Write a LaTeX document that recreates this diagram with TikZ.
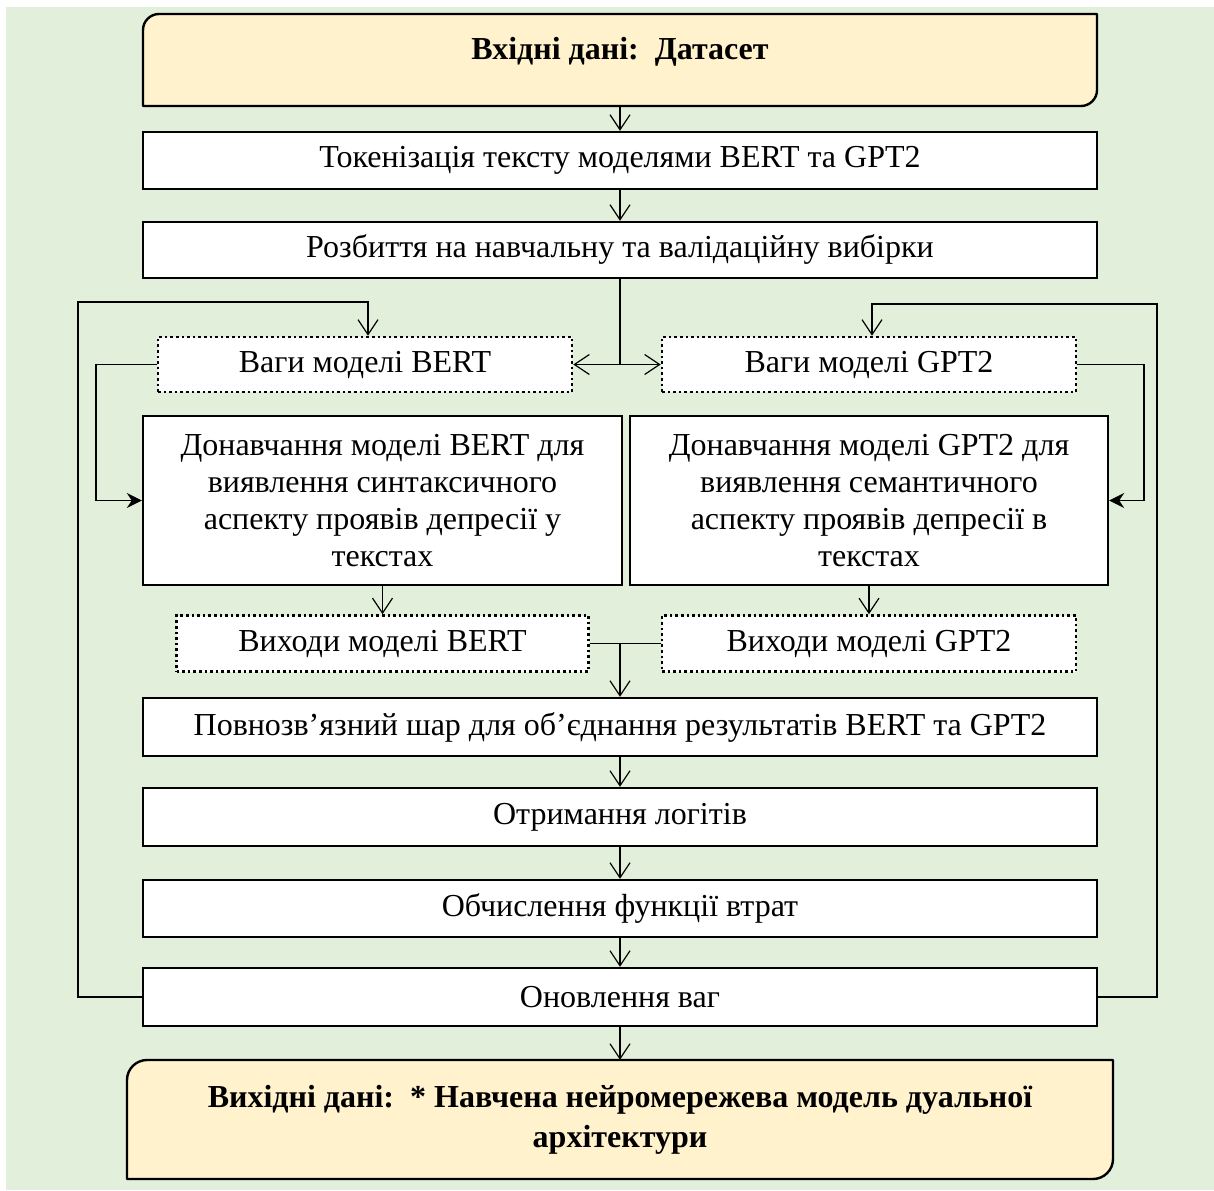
\documentclass[tikz,border=0pt]{standalone}
\usepackage{fontspec}
\setmainfont{Liberation Serif}
\usetikzlibrary{arrows.meta,calc}
\definecolor{bggreen}{HTML}{E2EFDA}
\definecolor{ioyellow}{HTML}{FFF2CC}
\begin{document}
\begin{tikzpicture}[x=1pt,y=-1pt,
  every node/.style={font=\fontsize{32}{37}\selectfont, inner sep=0pt},
  stepbox/.style={draw, line width=2.4pt, fill=white, rectangle, align=center},
  dotbox/.style={draw, line width=2.6pt, dash pattern=on 2.6pt off 3pt, fill=white, rectangle, align=center},
  iobox/.style={rectangle, align=center, font=\fontsize{32}{40}\selectfont\bfseries},
  outline/.style={line width=2.4pt, fill=ioyellow, line join=round},
  wire/.style={line width=1.2pt},
  flow/.style={wire, -{Straight Barb[length=15pt,width=20pt,line width=1.2pt]}},
  feed/.style={wire, -{Stealth[length=15pt,width=15pt,inset=5pt]}},
]
% canvas
\useasboundingbox (0,0) rectangle (1214,1190);
\fill[bggreen] (6,7) rectangle (1214,1190);

% input block (rounded at top-left and bottom-right)
\draw[outline] (143,106) -- (143,30) .. controls (143,21.2) and (150.2,14) .. (159,14)
  -- (1097,14) -- (1097,90) .. controls (1097,98.8) and (1089.8,106) .. (1081,106) -- cycle;
\node[iobox, minimum width=954pt, minimum height=92pt] (in) at (620,60) {};
\node[iobox] (intext) at (620,52) {Вхідні дані:~~Датасет};

% main column
\node[stepbox, minimum width=954pt, minimum height=57pt] (tok) at (620,160.5) {Токенізація тексту моделями BERT та GPT2};
\node[stepbox, minimum width=954pt, minimum height=56pt] (split) at (620,250) {Розбиття на навчальну та валідаційну вибірки};

% weights
\node[dotbox, minimum width=414pt, minimum height=55pt] (wb) at (365,364.5) {Ваги моделі BERT};
\node[dotbox, minimum width=414pt, minimum height=55pt] (wg) at (869,364.5) {Ваги моделі GPT2};

% fine-tuning
\node[stepbox, minimum width=479pt, minimum height=169pt] (fb) at (382.5,500.5)
  {Донавчання моделі BERT для\\виявлення синтаксичного\\аспекту проявів депресії у\\текстах};
\node[stepbox, minimum width=478pt, minimum height=169pt] (fg) at (869,500.5)
  {Донавчання моделі GPT2 для\\виявлення семантичного\\аспекту проявів депресії в\\текстах};

% outputs
\node[dotbox, minimum width=412pt, minimum height=56pt] (ob) at (382.5,643.5) {Виходи моделі BERT};
\node[dotbox, minimum width=414pt, minimum height=56pt] (og) at (869,643.5) {Виходи моделі GPT2};

\node[stepbox, minimum width=954pt, minimum height=58pt] (fc) at (620,727) {Повнозв’язний шар для об’єднання результатів BERT та GPT2};
\node[stepbox, minimum width=954pt, minimum height=58pt] (lg) at (620,817) {Отримання логітів};
\node[stepbox, minimum width=954pt, minimum height=57pt] (loss) at (620,908.5) {Обчислення функції втрат};
\node[stepbox, minimum width=954pt, minimum height=58pt] (upd) at (620,997) {Оновлення ваг};

% output block (rounded at top-left and bottom-right)
\draw[outline] (127,1179) -- (127,1080) .. controls (127,1069) and (136,1060) .. (147,1060)
  -- (1113,1060) -- (1113,1159) .. controls (1113,1170) and (1104,1179) .. (1093,1179) -- cycle;
\node[iobox, minimum width=986pt, minimum height=119pt] (out) at (620,1119.5)
  {Вихідні дані:~~* Навчена нейромережева модель дуальної\\архітектури};

% straight flow
\draw[flow] (in.south) -- (tok.north);
\draw[flow] (tok.south) -- (split.north);
\draw[wire] (split.south) -- (620,364.5) coordinate (fork);
\draw[flow] (fork) -- (wb.east);
\draw[flow] (fork) -- (wg.west);

% weights into fine-tuning
\draw[feed] (wb.west) -| (96,430) |- (fb.west);
\draw[feed] (wg.east) -| (1144,430) |- (fg.east);

% fine-tuning to outputs
\draw[flow] (fb.south) -- (ob.north);
\draw[flow] (fg.south) -- (og.north);
\coordinate (merge) at (620,643.5);
\draw[wire] (ob.east) -- (merge);
\draw[wire] (og.west) -- (merge);
\draw[flow] (merge) -- (fc.north);

\draw[flow] (fc.south) -- (lg.north);
\draw[flow] (lg.south) -- (loss.north);
\draw[flow] (loss.south) -- (upd.north);
\draw[flow] (upd.south) -- (out.north);

% weight update loops
\coordinate (lt) at (368,302);
\coordinate (rt) at (872,304);
\draw[flow] (upd.west) -| (78,302) -- (lt) -- (wb.north -| lt);
\draw[flow] (upd.east) -| (1157,304) -- (rt) -- (wg.north -| rt);
\end{tikzpicture}
\end{document}
